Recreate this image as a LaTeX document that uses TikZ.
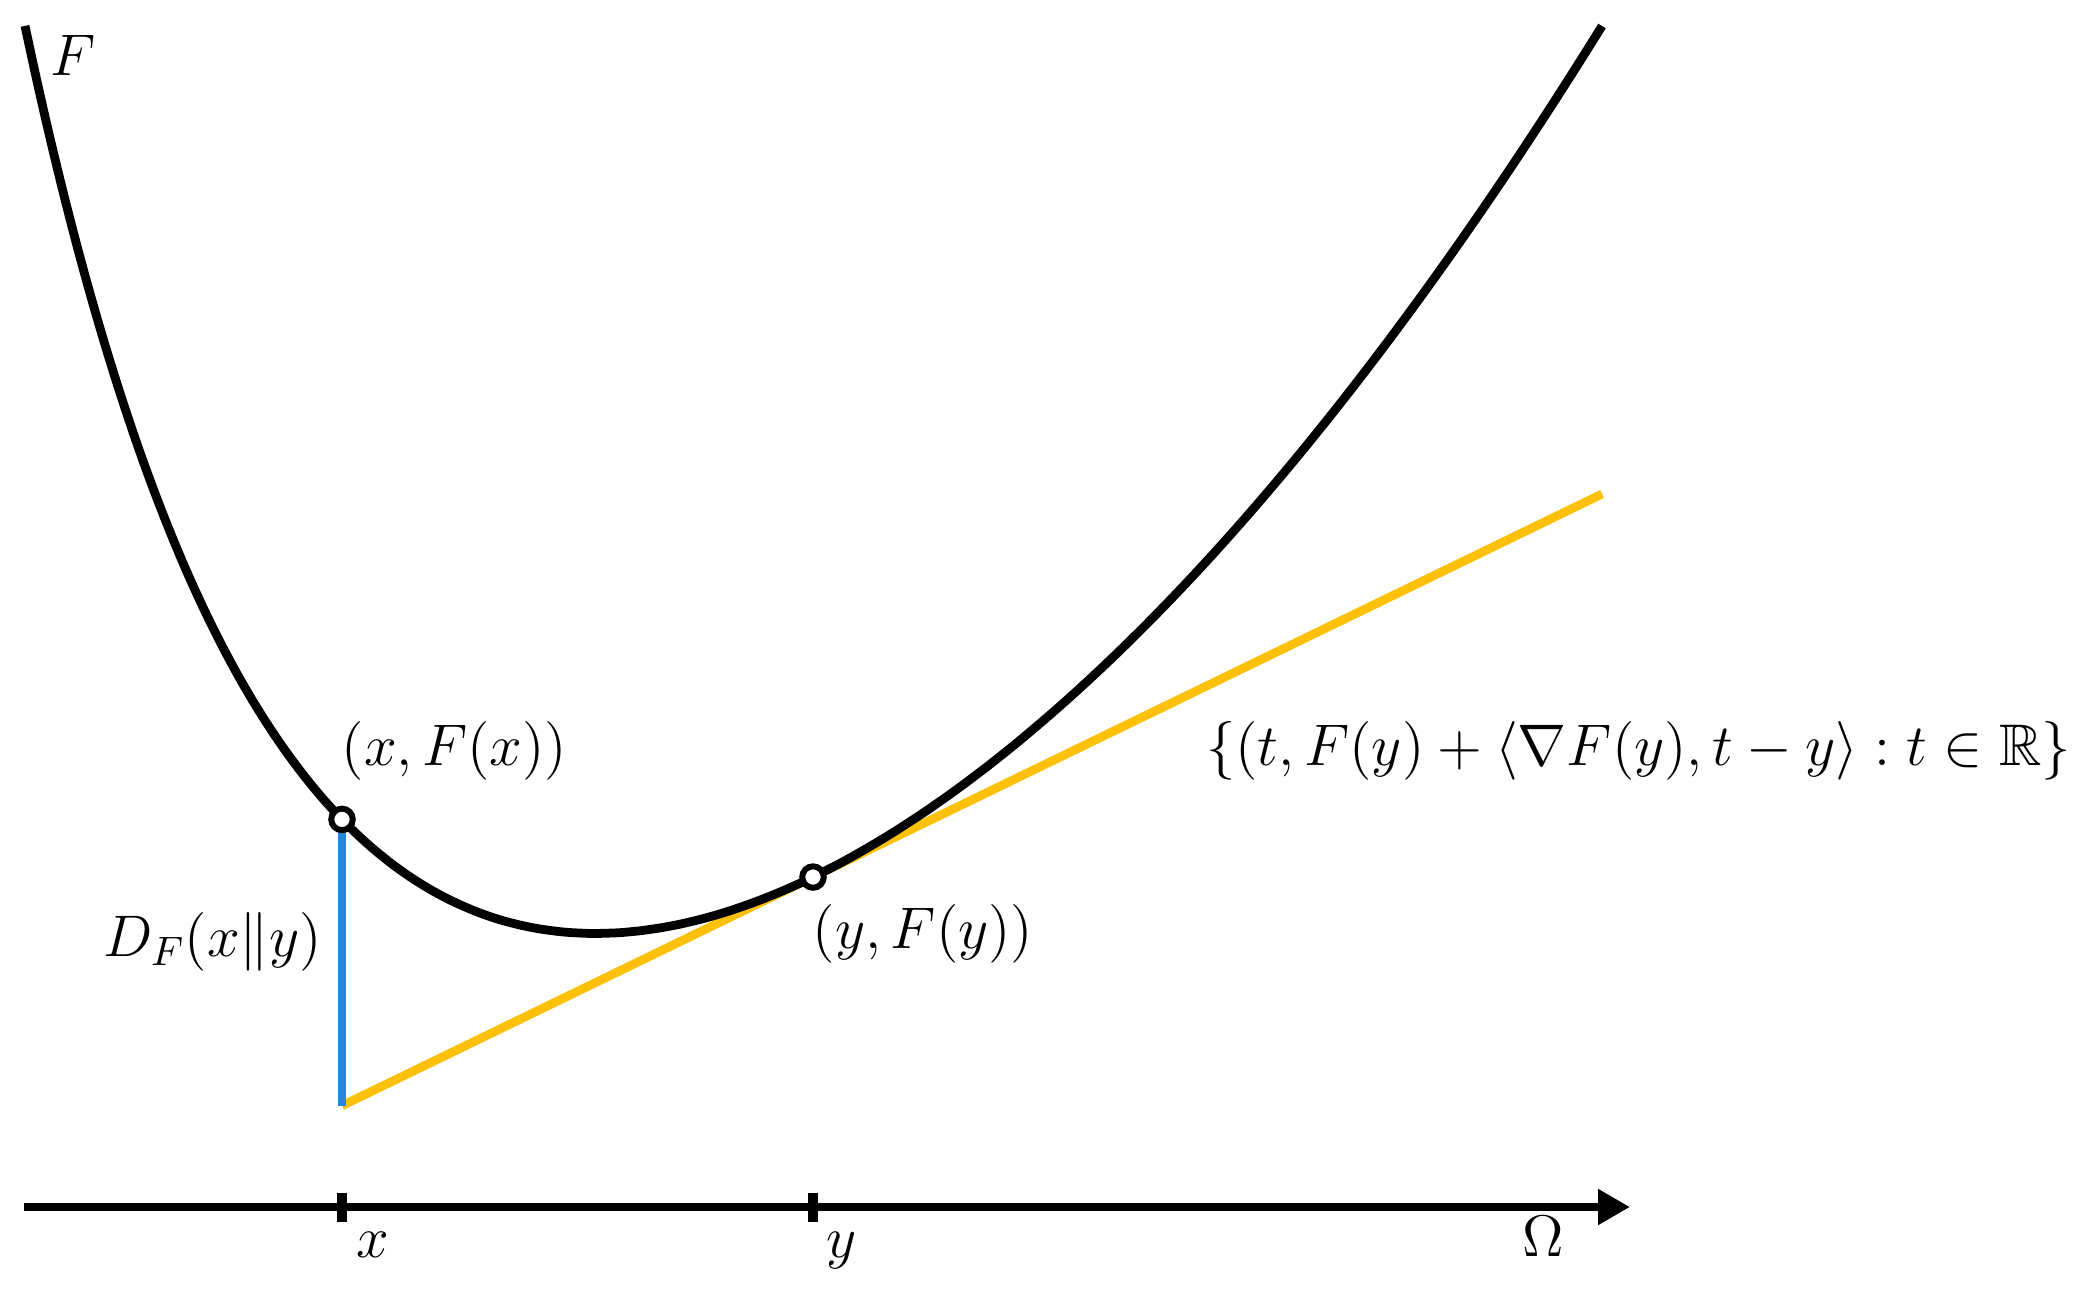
\documentclass[tikz,border=0pt]{standalone}
\usepackage{fix-cm}
\usepackage{amsmath,amssymb}
\usetikzlibrary{arrows.meta}
\definecolor{tanyellow}{RGB}{255,193,7}
\definecolor{divblue}{RGB}{30,136,229}
\begin{document}
\begin{tikzpicture}[
  line width=2.5pt,
  declare function={
    Ff(\t)=10.79*exp(-0.45*\t)+0.06367*\t*\t-0.425*\t+3.089;
    Fd(\t)=-4.8555*exp(-0.45*\t)+0.12734*\t-0.425;
    Tl(\t)=Ff(8.13)+Fd(8.13)*(\t-8.13);
  },
  lbl/.style={inner sep=0pt, font=\fontsize{16.7}{20}\selectfont},
  dot/.style={circle, draw=black, fill=white, line width=1.7pt, minimum size=0.215cm, inner sep=0pt},
  tickmark/.style={line width=2.7pt}
]
\useasboundingbox (0,0) rectangle (20.93,12.89);

% coordinates
\coordinate (ax0) at (0.24,0.82);
\coordinate (ax1) at (16.30,0.82);
\coordinate (px) at (3.42,{Ff(3.42)});
\coordinate (py) at (8.13,{Ff(8.13)});
\coordinate (tx) at (3.42,{Tl(3.42)});
\coordinate (tend) at (16.02,{Tl(16.02)});
\coordinate (tickxa) at (3.42,0.965);
\coordinate (tickxb) at (3.42,0.675);
\coordinate (tickya) at (8.13,0.965);
\coordinate (tickyb) at (8.13,0.675);

% axis
\draw[-{Triangle[length=3.2mm,width=3.4mm]}] (ax0) -- (ax1);
\draw[tickmark] (tickxa) -- (tickxb);
\draw[tickmark] (tickya) -- (tickyb);

% tangent line and divergence
\draw[tanyellow] (tx) -- (tend);
\draw[divblue] (px) -- (tx);

% function graph
\draw plot[domain=0.25:16.02, samples=160, smooth] (\x,{Ff(\x)});

\node[dot] (dx) at (px) {};
\node[dot] (dy) at (py) {};

% labels
\node[lbl] (lF) at (0.73,12.34) {$F$};
\node[lbl] (lpx) at (4.545,5.38) {$(x,F(x))$};
\node[lbl] (lpy) at (9.23,3.55) {$(y,F(y))$};
\node[lbl] (lD) at (2.125,3.47) {$D_F(x\|y)$};
\node[lbl] (lset) at (16.385,5.38) {$\{(t,F(y)+\langle\nabla F(y),t-y\rangle:t\in\mathbb{R}\}$};
\node[lbl,anchor=base] (lx) at (3.73,0.32) {$x$};
\node[lbl,anchor=base] (ly) at (8.42,0.32) {$y$};
\node[lbl,anchor=base] (lO) at (15.43,0.33) {$\Omega$};
\end{tikzpicture}
\end{document}
